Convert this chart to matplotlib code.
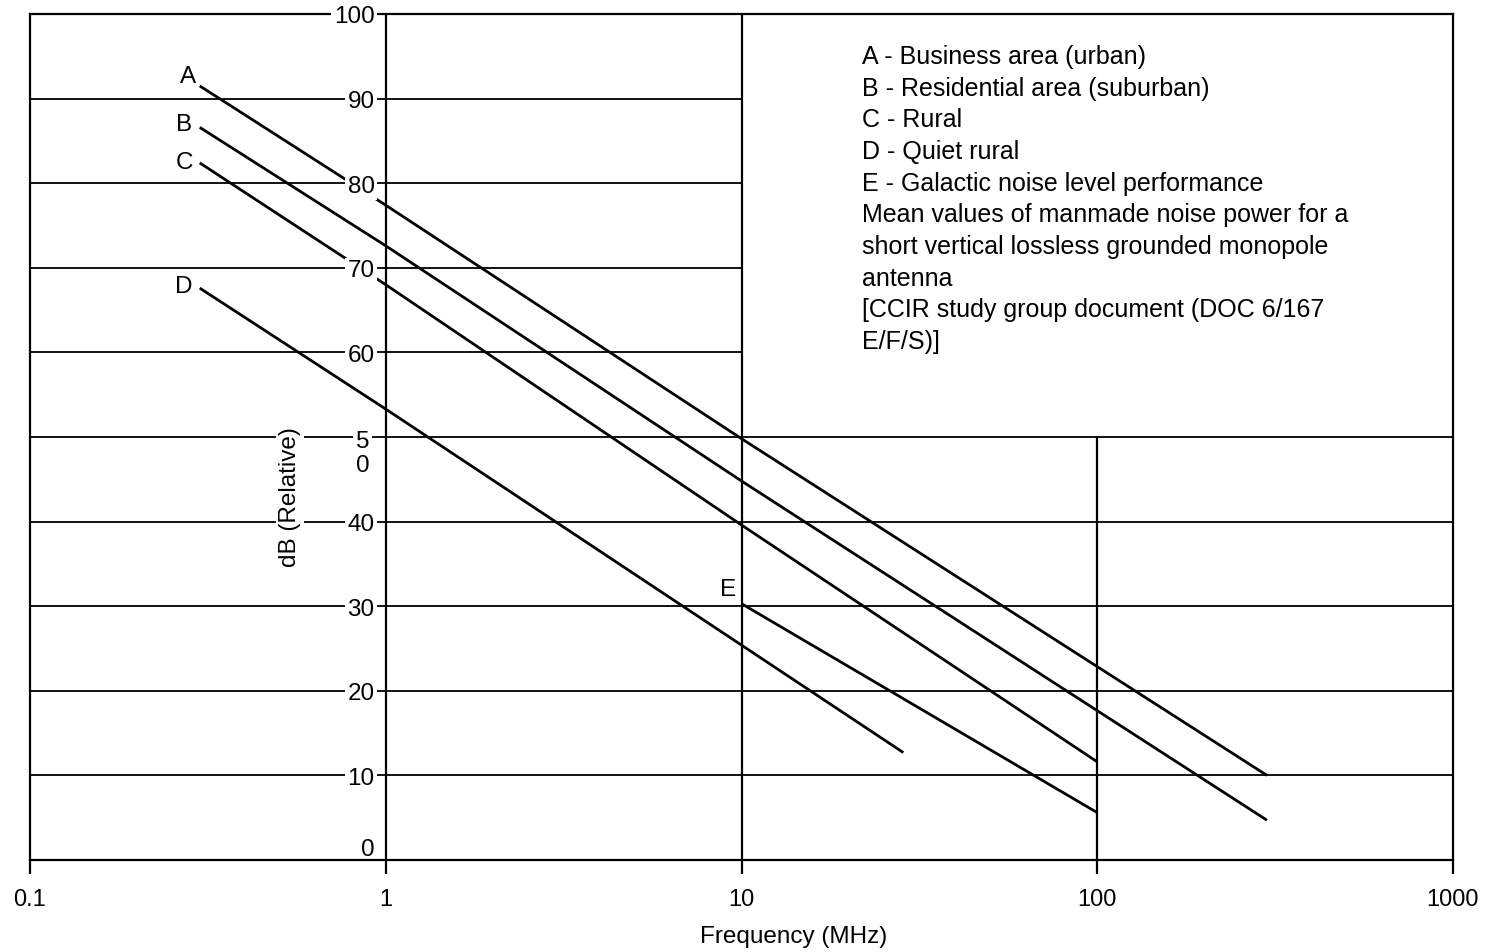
import numpy as np
import matplotlib.pyplot as plt

plt.rcParams['font.family'] = ['Liberation Sans', 'DejaVu Sans']

# noise curves (frequency in MHz, level in dB relative)
freq_a = [0.3, 1, 10, 300]
db_a = [91.5, 77.4, 49.8, 10.0]
freq_b = [0.3, 1, 10, 300]
db_b = [86.6, 72.6, 44.8, 4.7]
freq_c = [0.3, 1, 10, 100]
db_c = [82.4, 68.0, 39.6, 11.6]
freq_d = [0.3, 1, 10, 28.5]
db_d = [67.6, 53.3, 25.4, 12.7]
freq_e = [10, 100]
db_e = [30.3, 5.6]

x_ticks = [0.1, 1, 10, 100, 1000]
x_tick_labels = ['0.1', '1', '10', '100', '1000']
y_levels = [0, 10, 20, 30, 40, 50, 60, 70, 80, 90, 100]
y_tick_labels = ['0', '10', '20', '30', '40', '5\n0', '60', '70', '80', '90', '100']

notes = ['A - Business area (urban)',
         'B - Residential area (suburban)',
         'C - Rural',
         'D - Quiet rural',
         'E - Galactic noise level performance',
         'Mean values of manmade noise power for a',
         'short vertical lossless grounded monopole',
         'antenna',
         '[CCIR study group document (DOC 6/167',
         'E/F/S)]']

W, H = 1499, 952
fig = plt.figure(figsize=(W / 100, H / 100), dpi=100)
ax = fig.add_axes([30 / W, (H - 860) / H, (1453 - 30) / W, (860 - 14) / H])
ax.set_xscale('log')
ax.set_xlim(0.1, 1000)
ax.set_ylim(0, 100)

for s in ax.spines.values():
    s.set_linewidth(1.6)
    s.set_color('black')

# grid: upper rows only in the left two decades, lower rows full width
ax.hlines([60, 70, 80, 90], 0.1, 10, color='black', lw=1.3, zorder=1)
ax.hlines([10, 20, 30, 40, 50], 0.1, 1000, color='black', lw=1.3, zorder=1)
ax.vlines([1, 10], 0, 100, color='black', lw=1.6, zorder=1)
ax.vlines([100], 0, 50, color='black', lw=1.6, zorder=1)

kw = dict(color='black', lw=2.0, zorder=3, solid_capstyle='butt')
ax.plot(freq_a, db_a, **kw)
ax.plot(freq_b, db_b, **kw)
ax.plot(freq_c, db_c, **kw)
ax.plot(freq_d, db_d, **kw)
ax.plot(freq_e, db_e, **kw)

lab = dict(fontsize=17.5, ha='center', va='center', zorder=5,
           bbox=dict(facecolor='white', edgecolor='none', pad=1.5))
ax.text(0.278, 92.6, 'A', **lab)
ax.text(0.271, 86.9, 'B', **lab)
ax.text(0.271, 82.4, 'C', **lab)
ax.text(0.271, 67.7, 'D', **lab)
ax.text(9.16, 31.9, 'E', **lab)

# y labels sit inside the plot next to the 1 MHz line
white = dict(facecolor='white', edgecolor='none', pad=2)
for lvl, txt in zip(y_levels, y_tick_labels):
    if lvl == 0:
        ax.text(0.93, 1.2, txt, fontsize=17.5, ha='right', va='center', zorder=5)
    elif '\n' in txt:
        ax.text(0.86, 50.7, txt, fontsize=17.5, ha='center', va='top',
                linespacing=1.1, zorder=5, bbox=white, clip_on=False)
    else:
        ax.text(0.93, lvl - 0.4, txt, fontsize=17.5, ha='right', va='center',
                zorder=5, bbox=white, clip_on=False)

ax.text(0.538, 42.9, 'dB (Relative)', fontsize=17.5, rotation=90,
        ha='center', va='center', zorder=5, bbox=white)

ax.set_yticks([])
ax.set_xticks(x_ticks)
ax.set_xticklabels(x_tick_labels)
ax.minorticks_off()
ax.tick_params(axis='x', direction='out', length=10, width=1.6, pad=11,
               labelsize=17)
ax.set_xlabel('Frequency (MHz)', fontsize=17.5, labelpad=10)
ax.xaxis.set_label_coords((794 - 30) / (1453 - 30), -0.078)

for i, line in enumerate(notes):
    ax.text(21.8, 94.9 - i * 3.74, line, fontsize=18, ha='left',
            va='center', zorder=5)

fig.savefig('out.png', dpi=100, facecolor='white')
